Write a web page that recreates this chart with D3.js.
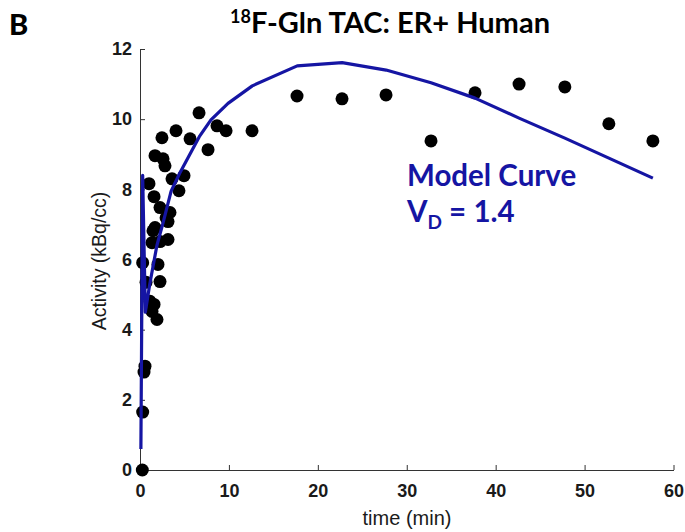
<!DOCTYPE html>
<html>
<head>
<meta charset="utf-8">
<script src="https://cdn.jsdelivr.net/npm/d3@7"></script>
<style>
	body { margin: 0; background: #fff; }
	svg { display: block; }
</style>
</head>
<body>
<svg id="chart" width="685" height="532"></svg>
<script>
// measured activity (frame mid time, min / kBq/cc)
var obsTime = [0.26, 0.30, 0.45, 0.56, 0.30, 2.02, 2.25, 0.68, 1.12, 1.35, 1.91, 1.58,
	2.25, 1.35, 3.15, 1.46, 3.15, 1.69, 3.37, 2.93, 2.25, 1.58, 1.01, 4.38, 3.60, 4.95,
	2.81, 2.59, 1.69, 7.65, 2.47, 5.63, 4.05, 6.64, 8.66, 9.68, 12.6,
	17.66, 22.72, 27.67, 32.73, 37.68, 42.63, 47.78, 52.73, 57.68];
var obsValue = [0.00, 1.65, 2.79, 2.96, 5.91, 5.86, 5.37, 5.35, 4.81, 4.52, 4.29, 4.72,
	6.51, 6.48, 6.57, 6.82, 7.08, 6.91, 7.34, 7.19, 7.48, 7.79, 8.16, 7.96, 8.30, 8.39,
	8.67, 8.87, 8.96, 9.13, 9.47, 9.44, 9.67, 10.18, 9.81, 9.67, 9.67,
	10.66, 10.58, 10.69, 9.38, 10.75, 11.00, 10.92, 9.87, 9.38];

// fitted model curve
var modelTime = [0.1, 0.3, 0.6, 1.1, 1.9, 2.6, 3.5, 4.45, 5.4, 6.67, 7.98, 9.9, 12.63,
	17.68, 22.73, 27.68, 32.73, 37.68, 42.63, 47.78, 52.73, 57.68];
var modelValue = [0.6, 8.4, 4.5, 5.3, 6.4, 7.05, 7.95, 8.45, 8.9, 9.5, 9.98, 10.45, 10.95,
	11.52, 11.61, 11.40, 11.04, 10.6, 10.03, 9.46, 8.89, 8.32];

var xTicks = [0, 10, 20, 30, 40, 50, 60];
var yTicks = [0, 2, 4, 6, 8, 10, 12];

var svg = d3.select("#chart"),
	width = +svg.attr("width"),
	height = +svg.attr("height"),
	margin = { top: 49, left: 140, right: 11.5, bottom: 62 };

var blue = "#1515a3";

var x = d3.scaleLinear().domain([0, 60]).range([margin.left, width - margin.right]);
var y = d3.scaleLinear().domain([0, 12]).range([height - margin.bottom, margin.top]);

svg.append("rect").attr("width", width).attr("height", height).attr("fill", "#fff");

// axes (ticks point inward)
var gx = svg.append("g")
	.attr("transform", "translate(0," + y(0) + ")")
	.call(d3.axisBottom(x).tickValues(xTicks).tickSizeInner(-5).tickSizeOuter(0).tickPadding(14));
var gy = svg.append("g")
	.attr("transform", "translate(" + x(0) + ",0)")
	.call(d3.axisLeft(y).tickValues(yTicks).tickSizeInner(-5).tickSizeOuter(0).tickPadding(8));

[gx, gy].forEach(function(g) {
	g.select(".domain").attr("stroke", "#333");
	g.selectAll(".tick line").attr("stroke", "#333");
	g.selectAll(".tick text")
		.attr("fill", "#1a1a1a")
		.style("font-family", "'Liberation Sans', Arial, sans-serif")
		.style("font-size", "18px")
		.style("font-weight", "bold");
});

// points
var pts = obsTime.map(function(t, i) { return { t: t, v: obsValue[i] }; });
svg.append("g").selectAll("circle")
	.data(pts).enter().append("circle")
	.attr("cx", function(d) { return x(d.t); })
	.attr("cy", function(d) { return y(d.v); })
	.attr("r", 6.5)
	.attr("fill", "#000");

// model curve
var model = modelTime.map(function(t, i) { return { t: t, v: modelValue[i] }; });
var line = d3.line()
	.x(function(d) { return x(d.t); })
	.y(function(d) { return y(d.v); });
svg.append("path")
	.attr("d", line(model))
	.attr("fill", "none")
	.attr("stroke", blue)
	.attr("stroke-width", 3.2)
	.attr("stroke-linejoin", "round");

// axis labels
svg.append("text")
	.attr("x", 407).attr("y", 525)
	.attr("text-anchor", "middle")
	.attr("fill", "#1a1a1a")
	.style("font-family", "'Liberation Sans', Arial, sans-serif")
	.style("font-size", "20px")
	.text("time (min)");

svg.append("text")
	.attr("transform", "translate(106,261) rotate(-90)")
	.attr("text-anchor", "middle")
	.attr("fill", "#1a1a1a")
	.style("font-family", "'Liberation Sans', Arial, sans-serif")
	.style("font-size", "19.5px")
	.text("Activity (kBq/cc)");

// panel letter and title
svg.append("text")
	.attr("x", 9).attr("y", 35)
	.style("font-family", "Lato, 'Open Sans', sans-serif")
	.style("font-size", "29px")
	.style("font-weight", "900")
	.attr("fill", "#000")
	.text("B");

var title = svg.append("text")
	.attr("x", 390).attr("y", 33)
	.attr("text-anchor", "middle")
	.style("font-family", "Lato, 'Open Sans', sans-serif")
	.style("font-weight", "bold")
	.style("font-size", "29px")
	.attr("fill", "#000");
title.append("tspan").attr("dy", "-10").style("font-size", "18px").text("18");
title.append("tspan").attr("dy", "10").text("F-Gln TAC: ER+ Human");

// model annotation
var note = svg.append("g")
	.style("font-family", "Lato, 'Open Sans', sans-serif")
	.style("font-weight", "bold")
	.attr("fill", blue);
note.append("text").attr("x", 407).attr("y", 186).style("font-size", "29.5px").text("Model Curve");
var vd = note.append("text").attr("x", 407).attr("y", 222).style("font-size", "29.5px");
vd.append("tspan").text("V");
vd.append("tspan").attr("dy", "7").style("font-size", "19px").text("D");
vd.append("tspan").attr("dy", "-7").text(" = 1.4");
</script>
</body>
</html>
